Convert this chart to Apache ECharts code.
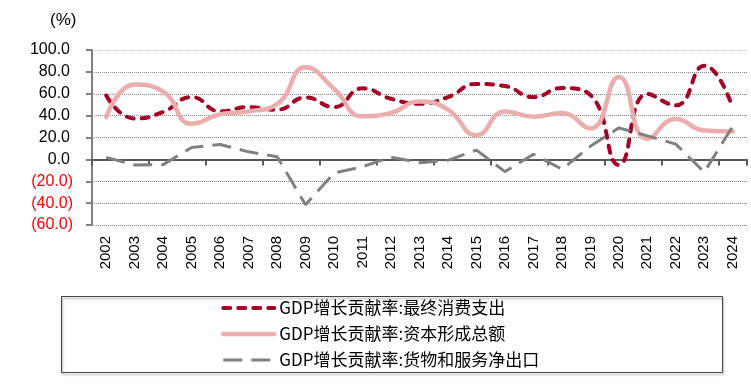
<!DOCTYPE html>
<html><head><meta charset="utf-8">
<script src="https://cdn.jsdelivr.net/npm/echarts@6/dist/echarts.min.js"></script>
<style>html,body{margin:0;padding:0;background:#fff}#c{width:751px;height:384px}</style>
</head><body><div id="c"></div>
<script>
const years = ['2002','2003','2004','2005','2006','2007','2008','2009','2010','2011','2012','2013','2014','2015','2016','2017','2018','2019','2020','2021','2022','2023','2024'];
const consumption = [58.4, 37.3, 43.3, 57.0, 43.9, 47.8, 45.4, 56.6, 47.8, 65.0, 55.4, 50.9, 56.9, 69.0, 67.0, 56.9, 65.2, 58.8, -5.0, 59.8, 49.4, 85.7, 47.0];
const capital = [38.8, 68.4, 62.0, 32.5, 41.2, 43.9, 50.5, 84.2, 64.5, 39.4, 42.5, 53.0, 45.5, 22.1, 43.8, 39.0, 42.4, 28.2, 75.3, 18.7, 37.0, 26.3, 25.4];
const netExports = [1.8, -5.2, -4.8, 10.9, 13.6, 6.9, 2.4, -41.5, -12.5, -6.7, 2.1, -3.0, -0.9, 8.5, -11.2, 4.7, -9.0, 12.0, 28.8, 21.5, 13.9, -11.7, 30.3];
const seriesNames = ['GDP增长贡献率:最终消费支出','GDP增长贡献率:资本形成总额','GDP增长贡献率:货物和服务净出口'];
const yMin = -60, yMax = 100, yStep = 20;
const unitLabel = '(%)';

const red = '#A50026', pink = '#ECADAD', gray = '#808080';
const colors = [red, pink, gray];
const styles = [
  {color: red, width: 4, type: [7, 8], cap: 'round'},
  {color: pink, width: 4.5, type: 'solid', cap: 'round'},
  {color: gray, width: 3, type: [19, 9], cap: 'butt'}
];
const values = [consumption, capital, netExports];

const chart = echarts.init(document.getElementById('c'));
const option = {
  animation: false,
  backgroundColor: '#fff',
  color: colors,
  grid: {left: 92, right: 4, top: 50, bottom: 159, containLabel: false},
  xAxis: [
    {type: 'category', data: years, boundaryGap: true,
     axisLine: {onZero: true, lineStyle: {color: '#595959', width: 2}},
     axisTick: {show: true, length: 6, lineStyle: {color: '#595959', width: 2}},
     axisLabel: {show: false}, splitLine: {show: false}},
    {type: 'category', data: years, boundaryGap: true, position: 'bottom',
     axisLine: {show: false, onZero: false}, axisTick: {show: false},
     axisLabel: {rotate: 90, margin: 11, fontSize: 15, fontFamily: 'Liberation Sans', color: '#000', interval: 0},
     splitLine: {show: false}}
  ],
  yAxis: {
    type: 'value', min: yMin, max: yMax, interval: yStep,
    axisLine: {show: true, onZero: false, lineStyle: {color: '#7f7f7f', width: 2}},
    axisTick: {show: true, length: 6, lineStyle: {color: '#7f7f7f', width: 2}},
    splitLine: {show: true, lineStyle: {type: 'dotted', width: 1,
      color: ['#808080','#808080','#808080','#808080','#808080','#808080','#808080','#808080','#c0c0c0']}},
    axisLabel: {
      margin: 19,
      formatter: v => v < 0 ? '{n|(' + (-v).toFixed(1) + ')}' : '{p|' + v.toFixed(1) + '}',
      rich: {
        p: {fontSize: 16, fontFamily: 'Liberation Sans', color: '#000', padding: [0, 3, 0, 0]},
        n: {fontSize: 16, fontFamily: 'Liberation Sans', color: '#ff0000'}
      }
    }
  },
  legend: {
    type: 'plain', orient: 'vertical', left: 221, top: 297, height: 84,
    itemWidth: 51, itemHeight: 14, itemGap: 4, padding: 0,
    textStyle: {fontSize: 17, lineHeight: 22, fontFamily: 'Noto Sans CJK SC', color: '#000'},
    data: seriesNames.map((n, i) => ({name: n, lineStyle: styles[i], itemStyle: {opacity: 0}}))
  },
  graphic: [
    {type: 'rect', shape: {x: 61.5, y: 296.5, width: 661, height: 76},
     style: {fill: 'none', stroke: '#444', lineWidth: 1, shadowBlur: 2, shadowColor: 'rgba(0,0,0,0.35)', shadowOffsetX: 1, shadowOffsetY: 2}, z: 10},
    {type: 'text', left: 50, top: 12, style: {text: unitLabel, font: '17px "Liberation Sans"', fill: '#000'}}
  ],
  series: seriesNames.map((n, i) => ({
    name: n, type: 'line', data: values[i], xAxisIndex: 0,
    smooth: i < 2 ? 0.5 : false, symbol: 'none',
    itemStyle: {color: colors[i]},
    lineStyle: styles[i], z: 2 + i
  }))
};
chart.setOption(option);
</script>
</body></html>
